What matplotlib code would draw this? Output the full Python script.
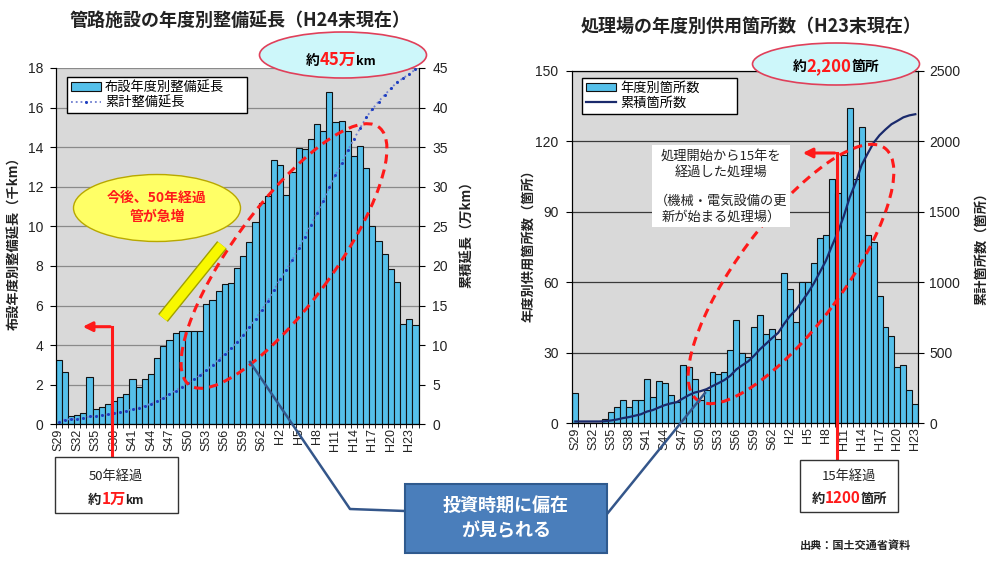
import numpy as np
import matplotlib.pyplot as plt
import matplotlib.patheffects as pe
from matplotlib.patches import Ellipse, Rectangle, FancyArrowPatch, Patch
from matplotlib.lines import Line2D
from matplotlib.offsetbox import TextArea, HPacker, AnnotationBbox

plt.rcParams['font.family'] = ['Noto Sans CJK JP', 'DejaVu Sans']

# 管路施設：布設年度別整備延長（千km）と累計（万km）  S29〜H24
pipe_years = [f'S{y}' for y in range(29, 64)] + [f'H{y}' for y in range(1, 25)]
pipe_len = [3.25, 2.66, 0.44, 0.49, 0.55, 2.37, 0.76, 0.89, 1.01, 1.19,
            1.36, 1.53, 2.30, 1.90, 2.30, 2.54, 3.33, 3.97, 4.26, 4.63,
            4.70, 4.70, 4.70, 4.70, 6.10, 6.30, 6.75, 7.10, 7.15, 7.90,
            8.50, 9.19, 10.20, 11.16, 11.53, 13.35, 13.10, 11.58, 12.76, 13.93,
            13.88, 14.40, 15.15, 14.83, 16.80, 15.25, 15.33, 14.80, 13.55, 14.07,
            12.93, 10.01, 9.26, 8.60, 7.84, 7.20, 5.05, 5.30, 5.01]
pipe_cum = [0.3, 0.6, 0.65, 0.7, 0.75, 1.0, 1.05, 1.15, 1.25, 1.4,
            1.5, 1.7, 1.9, 2.1, 2.35, 2.6, 2.95, 3.35, 3.8, 4.25,
            4.75, 5.25, 5.7, 6.2, 6.8, 7.5, 8.15, 8.9, 9.6, 10.4,
            11.3, 12.25, 13.3, 14.45, 15.6, 17.0, 18.3, 19.5, 20.8, 22.25,
            23.65, 25.15, 26.7, 28.2, 29.9, 31.5, 33.05, 34.6, 36.0, 37.4,
            38.75, 39.8, 40.75, 41.6, 42.4, 43.2, 43.7, 44.25, 44.8]

# 処理場：年度別供用箇所数と累積箇所数  S29〜H23
plant_years = [f'S{y}' for y in range(29, 64)] + [f'H{y}' for y in range(1, 24)]
plant_cnt = [13, 0, 0, 0, 0, 2, 5, 7, 10, 7,
             10, 10, 19, 11, 18, 17, 12, 9, 25, 24,
             19, 10, 14, 22, 21, 22, 31, 44, 30, 28,
             41, 46, 38, 40, 36, 64, 57, 43, 60, 60,
             68, 79, 80, 104, 98, 114, 134, 104, 126, 80,
             77, 54, 41, 37, 24, 25, 14, 8]
plant_cum = [13, 13, 13, 13, 13, 15, 20, 27, 37, 44,
             54, 64, 83, 94, 112, 129, 141, 150, 175, 199,
             218, 228, 242, 264, 285, 307, 338, 382, 412, 440,
             481, 527, 565, 605, 641, 705, 762, 805, 865, 925,
             993, 1072, 1152, 1256, 1354, 1468, 1602, 1706, 1832, 1912,
             1989, 2043, 2084, 2121, 2145, 2170, 2184, 2192]

BAR = '#55c0ea'
NUM_FONT = 'Liberation Sans'
W, H = 993, 561

fig = plt.figure(figsize=(W / 100, H / 100), dpi=100)
inch = fig.dpi_scale_trans


def px(x, y):
    # ピクセル位置（左上原点）→ インチ
    return (x / 100, (H - y) / 100)


def style_axes(ax, axr, n, labels, grid_color):
    ax.set_facecolor('#d9d9d9')
    ax.set_xlim(-0.5, n - 0.5)
    ax.grid(axis='y', color=grid_color, lw=0.9)
    ax.set_axisbelow(True)
    ax.set_xticks(np.arange(n)[::3])
    ax.set_xticklabels(labels[::3], rotation=90, fontsize=9, family=NUM_FONT,
                       color='#222222')
    ax.set_xticks(np.arange(-0.5, n, 1), minor=True)
    ax.tick_params(axis='x', which='major', length=0, pad=3)
    ax.tick_params(axis='x', which='minor', length=3)
    for a in (ax, axr):
        for lab in a.get_yticklabels():
            lab.set_fontfamily(NUM_FONT)
            lab.set_fontsize(10)
            lab.set_color('#222222')


# ---- 左：管路施設 ----
ax1 = fig.add_axes([55.7 / W, 1 - 424.3 / H, 362.8 / W, 356.4 / H])
x1 = np.arange(len(pipe_len))
ax1.bar(x1, pipe_len, width=1.0, color=BAR, edgecolor='#111111', lw=0.8)
ax1.set_ylim(0, 18)
ax1.set_yticks(np.arange(0, 19, 2))
ax1.tick_params(axis='y', length=4, pad=5)
ax1r = ax1.twinx()
ax1r.set_ylim(0, 45)
ax1r.set_yticks(np.arange(0, 46, 5))
ax1r.tick_params(axis='y', length=4, pad=6)
ax1r.plot(x1, pipe_cum, ls=':', color='#6f7fd0', lw=1.3, marker='o', ms=2.2,
          mfc='#1f3fc0', mec='none')
for a in (ax1, ax1r):
    a.spines['top'].set_visible(False)
style_axes(ax1, ax1r, len(pipe_len), pipe_years, '#8a8a8a')

ax1r.legend(handles=[Patch(facecolor=BAR, edgecolor='#111111', lw=0.8),
                     Line2D([], [], ls=':', color='#6f7fd0', lw=1.3, marker='o',
                            ms=2.2, mfc='#1f3fc0', mec='none')],
            labels=['布設年度別整備延長', '累計整備延長'],
            loc='upper left', bbox_to_anchor=(0.030, 0.974, 0.496, 0.0),
            mode='expand', fontsize=9.5, frameon=True, fancybox=False,
            edgecolor='black', framealpha=1, borderpad=0.3, labelspacing=0.15,
            handlelength=2.3, handleheight=0.6, handletextpad=0.3,
            borderaxespad=0)

# ---- 右：処理場 ----
ax2 = fig.add_axes([572.3 / W, 1 - 423.3 / H, 346 / W, 352.5 / H])
x2 = np.arange(len(plant_cnt))
ax2.bar(x2, plant_cnt, width=1.0, color=BAR, edgecolor='#111111', lw=0.8)
ax2.set_ylim(0, 150)
ax2.set_yticks(np.arange(0, 151, 30))
ax2.tick_params(axis='y', length=4, pad=6)
ax2r = ax2.twinx()
ax2r.set_ylim(0, 2500)
ax2r.set_yticks(np.arange(0, 2501, 500))
ax2r.tick_params(axis='y', length=4, pad=4)
ax2r.plot(x2, plant_cum, color='#1a2a6c', lw=1.6)
style_axes(ax2, ax2r, len(plant_cnt), plant_years, '#3a3a3a')

ax2r.legend(handles=[Patch(facecolor=BAR, edgecolor='#111111', lw=0.8),
                     Line2D([], [], color='#1a2a6c', lw=1.6)],
            labels=['年度別箇所数', '累積箇所数'],
            loc='upper left', bbox_to_anchor=(0.027, 0.980, 0.448, 0.0),
            mode='expand', fontsize=9.5, frameon=True, fancybox=False,
            edgecolor='black', framealpha=1, borderpad=0.3, labelspacing=0.15,
            handlelength=2.3, handleheight=0.6, handletextpad=0.3,
            borderaxespad=0)

# ---- タイトル・軸ラベル ----
tkw = dict(transform=inch, ha='center', va='center', fontweight='bold', color='#222222')
fig.text(*px(240, 21), '管路施設の年度別整備延長（H24末現在）', fontsize=13, **tkw)
fig.text(*px(751, 26), '処理場の年度別供用箇所数（H23末現在）', fontsize=13, **tkw)
fig.text(*px(14, 240), '布設年度別整備延長（千km）', rotation=90, fontsize=9.5, **tkw)
fig.text(*px(467, 231), '累積延長（万km）', rotation=90, fontsize=9.5, **tkw)
fig.text(*px(528, 243), '年度別供用箇所数（箇所）', rotation=90, fontsize=9.5, **tkw)
fig.text(*px(981, 245), '累計箇所数（箇所）', rotation=90, fontsize=9.5, **tkw)
fig.text(*px(855, 545), '出典：国土交通省資料', fontsize=8, **tkw)


def rich(x, y, parts):
    # 色・大きさの違う文字列を横に並べる
    areas = [TextArea(s, textprops=dict(color=c, fontsize=fs, fontweight='bold'))
             for s, c, fs in parts]
    pack = HPacker(children=areas, align='baseline', pad=0, sep=0)
    fig.add_artist(AnnotationBbox(pack, px(x, y), xycoords=inch, frameon=False,
                                  box_alignment=(0.5, 0.5), zorder=8))


def ellipse(cx, cy, w, h, angle=0, **kw):
    fig.add_artist(Ellipse(px(cx, cy), w / 100, h / 100, angle=angle,
                           transform=inch, **kw))


def line(xs, ys, **kw):
    pts = [px(x, y) for x, y in zip(xs, ys)]
    fig.add_artist(Line2D([p[0] for p in pts], [p[1] for p in pts],
                          transform=inch, **kw))


RED = '#ff1a1a'

# 吹き出し（総延長・総箇所数）
ellipse(343, 55, 167, 46, facecolor='#cdf7fa', edgecolor='#e0405a', lw=1.2, zorder=5)
rich(341, 60, [('約', 'black', 10), ('45万', RED, 12), ('km', 'black', 9)])
ellipse(836, 64, 167, 42, facecolor='#cdf7fa', edgecolor='#e0405a', lw=1.2, zorder=5)
rich(836, 66, [('約', 'black', 10), ('2,200', RED, 12), ('箇所', 'black', 10)])

# 赤点線の楕円
ellipse(284, 256, 320, 100, angle=53.7, fill=False, edgecolor=RED, lw=2.2,
        ls=(0, (3, 2)), zorder=4)
ellipse(791, 274, 314, 105, angle=53.3, fill=False, edgecolor=RED, lw=2.2,
        ls=(0, (3, 2)), zorder=4)

# 黄色の吹き出しと矢印
ellipse(157, 208, 167, 67, facecolor='#ffff66', edgecolor='#b8a800', lw=1.0, zorder=5)
fig.text(*px(157, 207), '今後、50年経過\n管が急増', fontsize=10, color=RED,
         transform=inch, ha='center', va='center', fontweight='bold',
         linespacing=1.5, zorder=6)
line([163, 222], [318, 245], color='#f8f800', lw=7, solid_capstyle='butt', zorder=5,
     path_effects=[pe.Stroke(linewidth=9, foreground='#a0a000'), pe.Normal()])

# 経過年数の赤い矢印
line([112.3, 112.3], [457, 326.7], color=RED, lw=2.2, zorder=6)
fig.add_artist(FancyArrowPatch(px(113, 326.7), px(80, 326.7), transform=inch,
                               arrowstyle='-|>', mutation_scale=14, color=RED,
                               lw=2.2, zorder=6))
line([836.7, 836.7], [460, 153], color=RED, lw=2.2, zorder=6)
fig.add_artist(FancyArrowPatch(px(837.5, 153), px(800, 153), transform=inch,
                               arrowstyle='-|>', mutation_scale=14, color=RED,
                               lw=2.2, zorder=6))

# 処理場の説明ボックス
fig.add_artist(Rectangle(px(652, 227), 138 / 100, 82 / 100, transform=inch,
                         facecolor='white', edgecolor='none', zorder=7))
fig.text(*px(721, 164), '処理開始から15年を\n経過した処理場', fontsize=9.5,
         transform=inch, ha='center', va='center', linespacing=1.35, zorder=8,
         color='#222222')
fig.text(*px(721, 209), '（機械・電気設備の更\n新が始まる処理場）', fontsize=9.5,
         transform=inch, ha='center', va='center', linespacing=1.35, zorder=8,
         color='#222222')

# 下部の枠
fig.add_artist(Rectangle(px(55, 513), 123 / 100, 56 / 100, transform=inch,
                         facecolor='white', edgecolor='#333333', lw=1.0, zorder=7))
fig.text(*px(116, 476), '50年経過', fontsize=9.5, transform=inch, ha='center',
         va='center', zorder=8, color='#222222')
rich(116, 499, [('約', '#222222', 9.5), ('1万', RED, 11), ('km', '#222222', 8.5)])

fig.add_artist(Rectangle(px(800, 512), 98 / 100, 52 / 100, transform=inch,
                         facecolor='white', edgecolor='#333333', lw=1.0, zorder=7))
fig.text(*px(849, 476), '15年経過', fontsize=9.5, transform=inch, ha='center',
         va='center', zorder=8, color='#222222')
rich(849, 498, [('約', '#222222', 9.5), ('1200', RED, 11), ('箇所', '#222222', 9.5)])

# 中央の青いボックスと引き出し線
line([250, 350, 405], [362, 509, 511], color='#34568a', lw=1.8, zorder=6)
line([607, 705], [514, 393], color='#34568a', lw=1.8, zorder=6)
fig.add_artist(Rectangle(px(405, 553), 202 / 100, 69 / 100, transform=inch,
                         facecolor='#4a7ebb', edgecolor='#2f5a8e', lw=1.5, zorder=7))
fig.text(*px(506, 518), '投資時期に偏在\nが見られる', fontsize=13, color='white',
         transform=inch, ha='center', va='center', fontweight='bold',
         linespacing=1.35, zorder=8)

fig.savefig('out.png', dpi=100)
